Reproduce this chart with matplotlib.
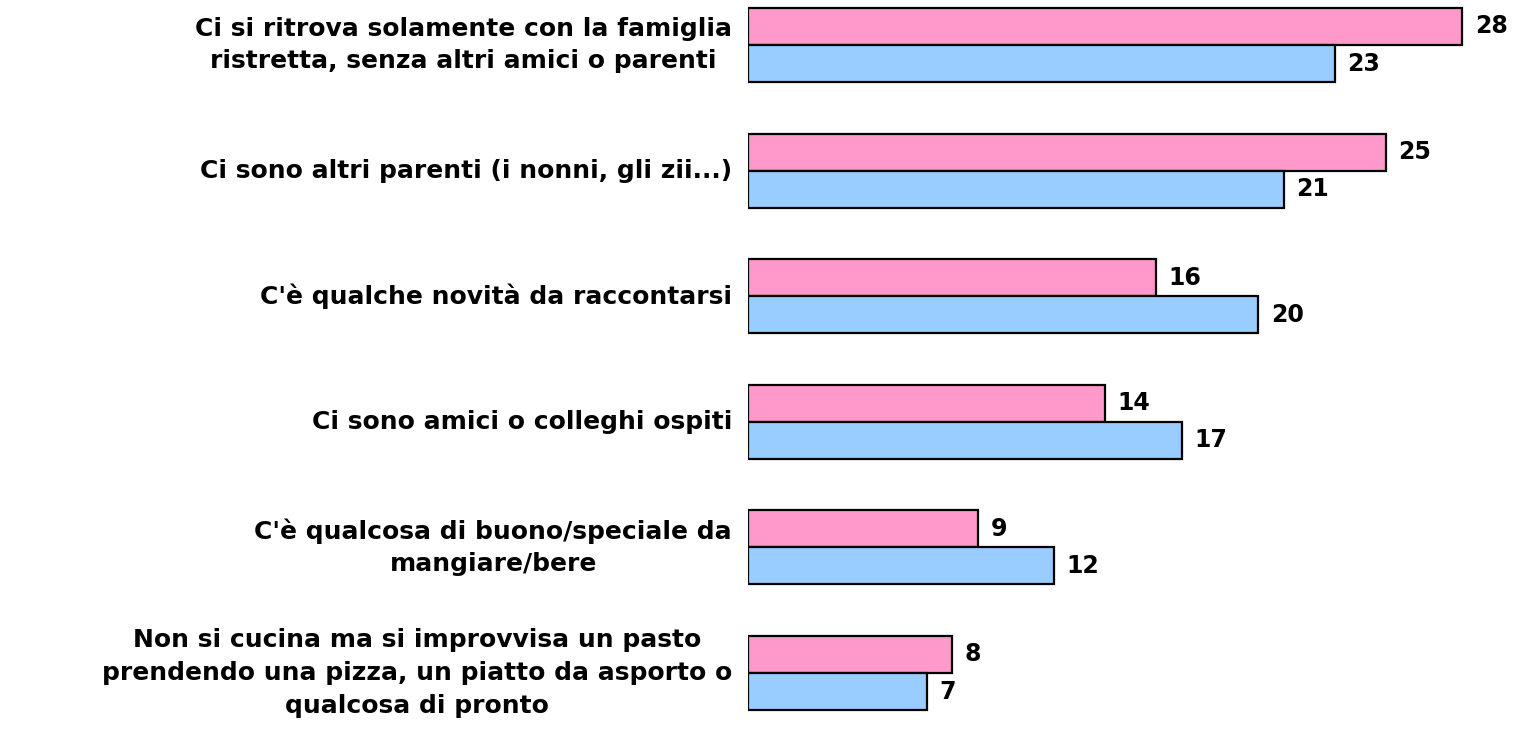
import numpy as np
import matplotlib
matplotlib.use("Agg")
import matplotlib.pyplot as plt

categorie = [
    "Ci si ritrova solamente con la famiglia\nristretta, senza altri amici o parenti",
    "Ci sono altri parenti (i nonni, gli zii...)",
    "C'è qualche novità da raccontarsi",
    "Ci sono amici o colleghi ospiti",
    "C'è qualcosa di buono/speciale da\nmangiare/bere",
    "Non si cucina ma si improvvisa un pasto\nprendendo una pizza, un piatto da asporto o\nqualcosa di pronto",
]
serie_rosa = [28, 25, 16, 14, 9, 8]
serie_azzurra = [23, 21, 20, 17, 12, 7]

ROSA, AZZURRO = "#FF99CC", "#99CCFF"

fig = plt.figure(figsize=(15.2, 7.29), dpi=100)
ax = fig.add_axes([748/1520, 0, 1 - 748/1520, 1])
y = np.arange(len(categorie))
h = 0.295
ax.barh(y - h/2, serie_rosa, height=h, color=ROSA, edgecolor="black", lw=1.6)
ax.barh(y + h/2, serie_azzurra, height=h, color=AZZURRO, edgecolor="black", lw=1.6)
for yi, v in zip(y, serie_rosa):
    ax.text(v + 0.5, yi - h/2, str(v), va="center", ha="left", fontsize=17, fontweight="bold")
for yi, v in zip(y, serie_azzurra):
    ax.text(v + 0.5, yi + h/2, str(v), va="center", ha="left", fontsize=17, fontweight="bold")
for yi, c in zip(y, categorie):
    ax.text(-0.63, yi, c, va="center", ha="right", fontsize=18, fontweight="bold",
            multialignment="center", linespacing=1.45, clip_on=False)

ax.set_xlim(0, (1520 - 748) / 25.5)
ax.set_ylim(5 + 56/125.6, -45/125.6)
ax.axis("off")
fig.savefig("out.png", dpi=100)
